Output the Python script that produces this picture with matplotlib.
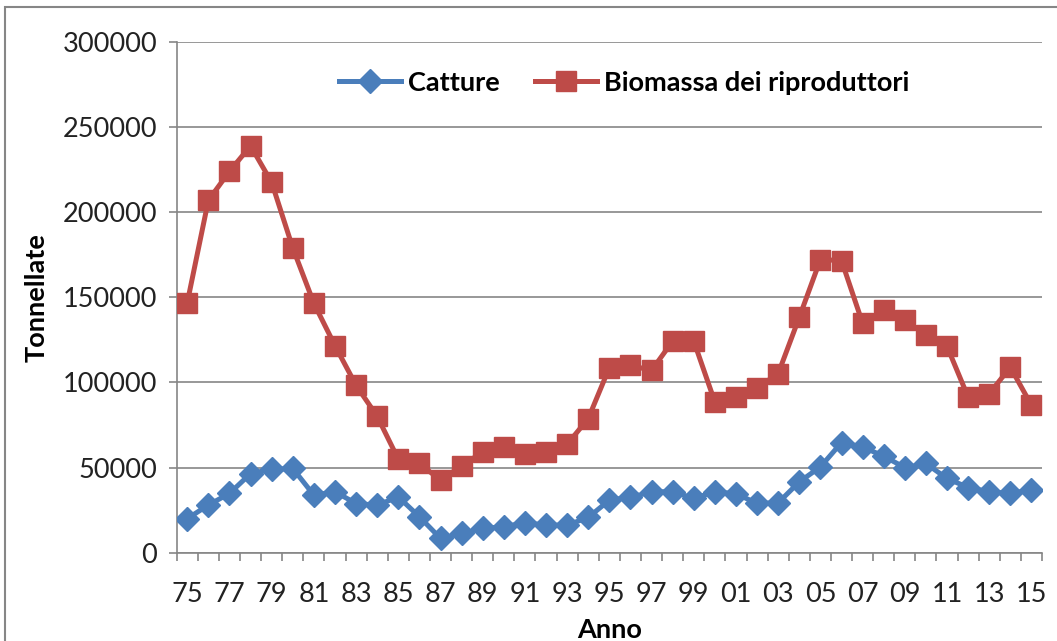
import matplotlib
matplotlib.use("Agg")
import matplotlib.pyplot as plt
from matplotlib.patches import Rectangle
import numpy as np

years = ["75","76","77","78","79","80","81","82","83","84","85","86","87","88","89","90",
         "91","92","93","94","95","96","97","98","99","00","01","02","03","04","05","06",
         "07","08","09","10","11","12","13","14","15"]
catture = [20000, 28000, 34800, 46500, 48900, 49500, 33800, 35800, 28900, 27900, 32800,
           21100, 8400, 11400, 14300, 15200, 17600, 16200, 16200, 20700, 30900, 32500,
           35800, 35800, 31900, 35800, 34600, 29000, 29300, 41600, 50400, 64700, 62100,
           56700, 50000, 52400, 43600, 38300, 35800, 34800, 36800]
biomassa = [146800, 207000, 224000, 239000, 217500, 179000, 146500, 121600, 98300, 80100,
            54900, 52400, 42600, 51000, 59200, 62100, 57900, 59200, 63700, 78800, 108700,
            110000, 107100, 124300, 124300, 88500, 91200, 96900, 105200, 138300, 172200,
            171600, 134800, 142800, 136800, 127600, 121200, 91400, 93400, 109000, 86600]
yticks = [0, 50000, 100000, 150000, 200000, 250000, 300000]

FONT = ["Lato", "DejaVu Sans"]
plt.rcParams["font.family"] = FONT

W, H = 1057, 641
fig = plt.figure(figsize=(W/100, H/100), dpi=100)
fig.patches.append(Rectangle((5/W, -0.1), 1.2, 1 - 7/H + 0.1, transform=fig.transFigure,
                             fill=False, edgecolor="#868686", linewidth=1.5))
ax = fig.add_axes([176.7/W, 1 - 552.7/H, (1042 - 176.7)/W, (552.7 - 42)/H])

x = np.arange(len(years))
blue = "#4A7EBB"
red = "#BE4B48"
ax.plot(x, biomassa, color=red, lw=3.6, marker="s", ms=15, mfc=red, mec=red,
        label="Biomassa dei riproduttori", zorder=3)
ax.plot(x, catture, color=blue, lw=3.6, marker="D", ms=12.5, mfc=blue, mec=blue,
        label="Catture", zorder=4)

ax.set_xlim(-0.5, len(years) - 0.5)
ax.set_ylim(0, 300000)
ax.set_yticks(yticks)
ax.set_yticklabels([str(v) for v in yticks], fontsize=19.5, color="#222222")
ax.yaxis.grid(True, color="#868686", lw=1.2)
ax.set_axisbelow(True)

ax.set_xticks(np.arange(-0.5, len(years), 1.0))
ax.set_xticklabels([])
ax.set_xticks(x[::2], minor=True)
ax.set_xticklabels(years[::2], minor=True, fontsize=19.5, color="#222222")
ax.tick_params(axis="x", which="major", length=6, color="#868686", width=1.2, direction="out")
ax.tick_params(axis="x", which="minor", length=0, pad=21)
ax.tick_params(axis="y", length=6, color="#868686", width=1.2, pad=8)

for s in ["top", "right"]:
    ax.spines[s].set_visible(False)
for s in ["left", "bottom"]:
    ax.spines[s].set_color("#868686")
    ax.spines[s].set_linewidth(1.2)

ax.set_ylabel("Tonnellate", fontsize=19.5, fontweight="bold", labelpad=10)
ax.set_xlabel("Anno", fontsize=19.5, fontweight="bold", labelpad=8)

h, l = ax.get_legend_handles_labels()
leg = ax.legend([h[1], h[0]], [l[1], l[0]], loc="center", bbox_to_anchor=(0.517, 0.92),
                ncol=2, frameon=False, prop={"size": 19.5, "weight": "bold"},
                handlelength=2.3, columnspacing=1.3, handletextpad=0.25,
                borderpad=0, borderaxespad=0)

fig.savefig("out.png", dpi=100)
